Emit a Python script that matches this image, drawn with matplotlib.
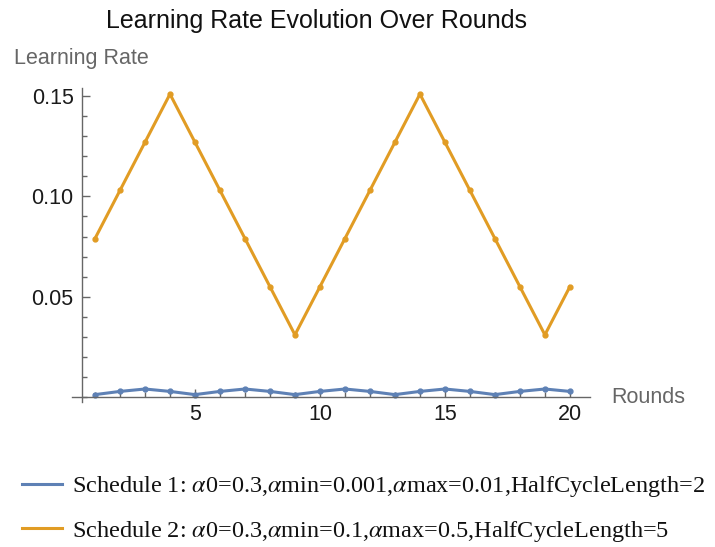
import matplotlib.pyplot as plt
from matplotlib.lines import Line2D
from matplotlib.ticker import MultipleLocator

plt.rcParams['font.family'] = ['Liberation Sans', 'DejaVu Sans']
plt.rcParams['mathtext.fontset'] = 'stix'

rounds = list(range(1, 21))
# Schedule 1 (blue)
lr_s1 = [0.0012, 0.0028, 0.0040, 0.0028] * 5
# Schedule 2 (orange)
lr_s2 = [0.079, 0.103, 0.127, 0.151, 0.127, 0.103, 0.079, 0.055, 0.031, 0.055,
         0.079, 0.103, 0.127, 0.151, 0.127, 0.103, 0.079, 0.055, 0.031, 0.055]
labels = [
    'Schedule 1: $\\alpha$0=0.3,$\\alpha$min=0.001,$\\alpha$max=0.01,HalfCycleLength=2',
    'Schedule 2: $\\alpha$0=0.3,$\\alpha$min=0.1,$\\alpha$max=0.5,HalfCycleLength=5',
]
blue = '#5E81B5'
orange = '#E19C24'
gray = '#666666'

fig = plt.figure(figsize=(7.15, 5.47), dpi=100)
ax = fig.add_axes([0.1007, 0.265, 0.7243, 0.574])

ax.plot(rounds, lr_s1, color=blue, lw=2.2, marker='o', ms=3.5)
ax.plot(rounds, lr_s2, color=orange, lw=2.2, marker='o', ms=3.5)

ax.set_xlim(0.08, 20.8)
ax.set_ylim(-0.0025, 0.154)

# axes cross like Mathematica
ax.spines['top'].set_visible(False)
ax.spines['right'].set_visible(False)
ax.spines['left'].set_position(('data', 0.48))
ax.spines['bottom'].set_position(('data', 0))
for s in ['left', 'bottom']:
    ax.spines[s].set_color(gray)
    ax.spines[s].set_linewidth(1)

ax.xaxis.set_minor_locator(MultipleLocator(1))
ax.yaxis.set_minor_locator(MultipleLocator(0.01))
ax.set_xticks([5, 10, 15, 20])
ax.set_yticks([0.05, 0.10, 0.15])
ax.set_yticklabels(['0.05', '0.10', '0.15'])
ax.tick_params(which='both', direction='in', color=gray, labelsize=15.5, labelcolor='#1a1a1a')
ax.tick_params(which='major', length=6, width=1)
ax.tick_params(axis='y', pad=6)
ax.tick_params(axis='x', pad=5)
ax.tick_params(which='minor', length=3.5, width=1)

ax.text(0.019, 1.06, 'Learning Rate', transform=ax.transAxes, ha='center', va='bottom',
        fontsize=15.5, color=gray)
ax.text(1.042, 0.016, 'Rounds', transform=ax.transAxes, ha='left', va='center',
        fontsize=15.5, color=gray)

fig.text(0.443, 0.961, 'Learning Rate Evolution Over Rounds', ha='center', va='center',
         fontsize=18, color='#111111')

handles = [Line2D([], [], color=blue, lw=2.2), Line2D([], [], color=orange, lw=2.2)]
fig.legend(handles, labels, loc='lower left', bbox_to_anchor=(0.031, 0.006), frameon=False,
           prop={'family': 'Liberation Serif', 'size': 17.5}, handlelength=1.65,
           handletextpad=0.42, labelspacing=0.8, borderpad=0, borderaxespad=0,
           labelcolor='#111111')

fig.savefig('out.png', dpi=100)
